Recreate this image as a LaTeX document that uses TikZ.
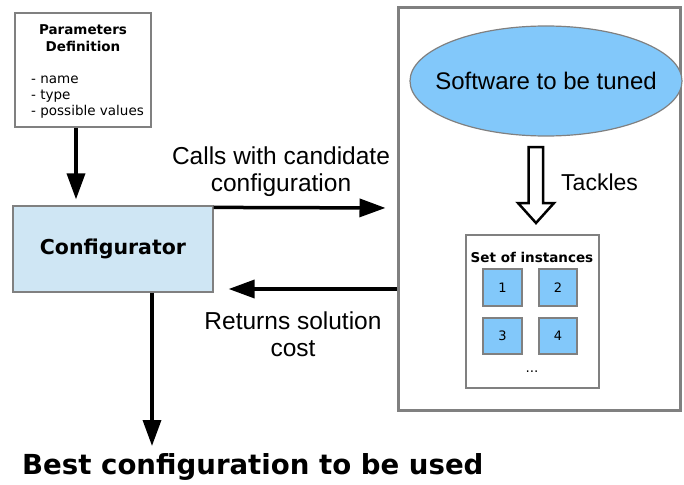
\documentclass[tikz,border=0pt]{standalone}
\usepackage{fontspec}
\setmainfont{Liberation Sans}
\newfontfamily\dejavu{DejaVu Sans}
\usetikzlibrary{calc, positioning, shapes.geometric, arrows.meta}

\definecolor{boxgray}{RGB}{128,128,128}
\definecolor{confblue}{RGB}{207,230,244}
\definecolor{softblue}{RGB}{130,200,250}

\begin{document}
\begin{tikzpicture}[x=1pt, y=-1pt,
      plainbox/.style={
        rectangle,
        draw=boxgray,
        line width=1.8pt,
        inner sep=0pt
      },
      smalltext/.style={font=\dejavu\fontsize{13.5}{16}\selectfont, inner sep=0pt},
      bigtext/.style={font=\fontsize{24.5}{27}\selectfont, inner sep=0pt, align=center},
      flow/.style={line width=3.5pt, -{Triangle[length=26pt, width=18pt]}}]

    \useasboundingbox (0,0) rectangle (684,484);

    % outer frame around the tuned software
    \node[plainbox, line width=3pt, minimum width=282pt, minimum height=402pt] (target) at (539,209) {};

    \node[plainbox, fill=white, minimum width=136pt, minimum height=114pt] (params) at (83,70) {};
    \node[smalltext, font=\dejavu\bfseries\fontsize{13.5}{17}\selectfont, align=center, anchor=base]
      (paramtitle) at (83,52) {Parameters\\Definition};
    \node[smalltext, align=left, anchor=base west] (paramlist) at (31,115) {- name\\- type\\- possible values};

    \node[plainbox, line width=1.2pt, fill=confblue, minimum width=200pt, minimum height=86pt,
      font=\dejavu\bfseries\fontsize{20.5}{24}\selectfont] (config) at (113,249) {Configurator};

    \node[ellipse, draw=boxgray, line width=1.2pt, fill=softblue, minimum width=272pt, minimum height=110pt,
      inner xsep=-15pt, inner ysep=0pt, font=\fontsize{24}{27}\selectfont] (software) at (546,81) {Software to be tuned};

    % set of instances
    \node[plainbox, minimum width=133pt, minimum height=153pt] (instances) at (532.5,311.5) {};
    \node[smalltext, font=\dejavu\bfseries\fontsize{13.5}{16}\selectfont, anchor=base] (insttitle) at (532,262) {Set of instances};
    \foreach \n/\px/\py in {1/502.5/287.7, 2/558/287.7, 3/502.5/336, 4/558/336}
      \node[plainbox, fill=softblue, minimum width=38.5pt, minimum height=36.7pt,
        font=\dejavu\fontsize{13}{16}\selectfont] (inst\n) at (\px,\py) {\n};
    \node[smalltext, anchor=base] (instdots) at (532,372) {...};

    % tackles arrow
    \draw[line width=2.5pt, fill=white, line join=miter]
      (528.5,147) -- (543,147) -- (543,203) -- (554,203) -- (536,223)
      -- (518,203) -- (528.5,203) -- cycle;
    \node[bigtext, font=\fontsize{23}{27}\selectfont, anchor=base west] (tackles) at (561,190) {Tackles};

    % connections
    \draw[flow] (params.south -| 76,0) -- ($(config.north -| 76,0)+(0,-6)$);
    \draw[flow, shorten >=11pt] ($(config.north east)+(0,2)$) -- (target.west |- 0,208);
    \draw[flow, shorten >=15pt] (target.west |- 0,289) -- (config.east |- 0,289);
    \coordinate (bestend) at (152,446);
    \draw[flow] (config.south -| bestend) -- (bestend);

    \node[bigtext, anchor=base] (callslabel) at (281,191) {Calls with candidate\\configuration};
    \node[bigtext, anchor=base] (costlabel) at (293,356) {Returns solution\\cost};

    \node[font=\dejavu\bfseries\fontsize{27.6}{30}\selectfont, inner sep=0pt, anchor=base west]
      (best) at (22,474) {Best configuration to be used};
  \end{tikzpicture}
\end{document}
